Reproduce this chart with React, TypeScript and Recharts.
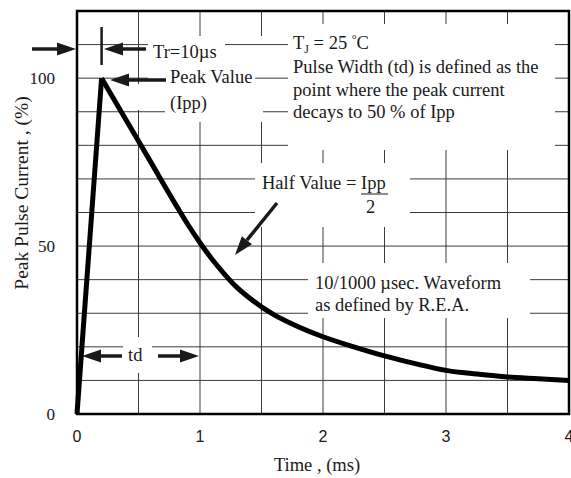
import { CartesianGrid, Customized, Line, LineChart, XAxis, YAxis } from 'recharts';

document.body.style.margin = '0';

// time in ms, current in % of Ipp
const TIME = [0, 0.2, 0.4, 0.6, 0.8, 0.9, 1, 1.1, 1.2, 1.3, 1.4, 1.5, 1.6, 1.75, 2, 2.25, 2.5, 2.75, 3, 3.25, 3.5, 3.75, 4];
const CURRENT = [0, 100, 87.5, 75, 62.5, 56.5, 51, 46, 41.6, 37.7, 34.6, 31.9, 29.6, 26.8, 23, 20, 17.3, 15, 13, 11.9, 11, 10.5, 10];
const X_TICKS = [0, 0.5, 1, 1.5, 2, 2.5, 3, 3.5, 4];
const Y_TICKS = [0, 10, 20, 30, 40, 50, 60, 70, 80, 90, 100, 110, 120];
const X_LABELS = [0, 1, 2, 3, 4];
const Y_LABELS = [0, 50, 100];

const points = TIME.map((t, i) => ({ t, v: CURRENT[i] }));
const rise = points.slice(0, 2);
const decay = points.slice(1);

const W = 571;
const H = 478;
const LEFT = 77;
const TOP = 11;
const PW = 492;
const PH = 403;
const px = (t: number) => LEFT + (t / 4) * PW;
const py = (v: number) => TOP + PH - (v / 120) * PH;

const SERIF = '"Liberation Serif", "Times New Roman", serif';
const INK = '#1a1a1a';
const GRID = '#3a3a3a';

function Arrow({ x1, y1, x2, y2 }: { x1: number; y1: number; x2: number; y2: number }) {
  // line from (x1,y1) with head at (x2,y2)
  const a = Math.atan2(y2 - y1, x2 - x1);
  const len = 19;
  const hw = 6.5;
  const bx = x2 - len * Math.cos(a);
  const by = y2 - len * Math.sin(a);
  const nx = -Math.sin(a) * hw;
  const ny = Math.cos(a) * hw;
  return (
    <g>
      <line x1={x1} y1={y1} x2={bx} y2={by} stroke={INK} strokeWidth={3.5} />
      <polygon points={`${x2},${y2} ${bx + nx},${by + ny} ${bx - nx},${by - ny}`} fill={INK} />
    </g>
  );
}

function Overlay() {
  const boxes = [
    { x: 148, y: 36, w: 140, h: 86 },
    { x: 130, y: 84, w: 18, h: 26 },
    { x: 288, y: 24, w: 267, h: 126 },
    { x: 255, y: 163, w: 155, h: 64 },
    { x: 308, y: 263, w: 222, h: 55 },
    { x: 123, y: 337, w: 29, h: 36 },
  ];
  const dashes = [
    { x1: 225, x2: 288, v: 110 },
    { x1: 255, x2: 288, v: 100 },
    { x1: 148, x2: 165, v: 90 },
    { x1: 263, x2: 288, v: 90 },
  ];
  const text = { fontFamily: SERIF, fontSize: 18.5, fill: INK };
  return (
    <g>
      {boxes.map((b, i) => (
        <rect key={i} x={b.x} y={b.y} width={b.w} height={b.h} fill="#fff" />
      ))}
      {dashes.map((d, i) => (
        <line key={i} x1={d.x1} x2={d.x2} y1={py(d.v)} y2={py(d.v)} stroke={GRID} strokeWidth={1} />
      ))}
      <rect x={LEFT} y={TOP} width={PW} height={PH} fill="none" stroke="#000" strokeWidth={2.5} />

      {/* rise time marker */}
      <Arrow x1={32} y1={49} x2={76} y2={49} />
      <line x1={px(0.2)} x2={px(0.2)} y1={27} y2={65} stroke={INK} strokeWidth={2.5} />
      <Arrow x1={146} y1={49} x2={104} y2={49} />
      <text x={153} y={58} {...text}>Tr=10µs</text>

      {/* peak value */}
      <Arrow x1={166} y1={80} x2={110} y2={80} />
      <text x={170} y={83} {...text}>Peak Value</text>
      <text x={170} y={109} {...text}>(Ipp)</text>

      {/* conditions block */}
      <text x={293} y={49} {...text}>
        T<tspan fontSize={12} dy={4}>J</tspan>
        <tspan dy={-4}> = 25 </tspan>
        <tspan fontSize={12} dy={-6}>°</tspan>
        <tspan dy={6}>C</tspan>
      </text>
      <text x={293} y={73} {...text}>Pulse Width (td) is defined as the</text>
      <text x={293} y={96} {...text}>point where the peak current</text>
      <text x={293} y={118} {...text}>decays to 50 % of Ipp</text>

      {/* half value */}
      <text x={262} y={189} {...text}>Half Value = Ipp</text>
      <line x1={361} x2={388} y1={194} y2={194} stroke={INK} strokeWidth={1} />
      <text x={366} y={213} {...text}>2</text>
      <Arrow x1={277} y1={203} x2={235} y2={255} />

      {/* waveform note */}
      <text x={315} y={289} {...text}>10/1000 µsec. Waveform</text>
      <text x={315} y={311} {...text}>as defined by R.E.A.</text>

      {/* pulse width */}
      <Arrow x1={122} y1={356} x2={82} y2={356} />
      <text x={128} y={361} {...text}>td</text>
      <Arrow x1={158} y1={356} x2={199} y2={356} />

      {/* axis titles */}
      <text x={317} y={471} textAnchor="middle" {...text}>Time , (ms)</text>
      <text
        x={22}
        y={193}
        textAnchor="middle"
        transform="rotate(-90 22 193)"
        dy={6}
        {...text}
        fontSize={19.5}
      >
        Peak Pulse Current , (%)
      </text>
    </g>
  );
}

export default function App() {
  return (
    <div style={{ width: W, height: H, background: '#fff' }}>
      <LineChart width={W} height={H} margin={{ top: TOP, right: W - LEFT - PW, bottom: 0, left: 0 }}>
        <CartesianGrid stroke={GRID} strokeWidth={1} />
        <XAxis
          dataKey="t"
          type="number"
          domain={[0, 4]}
          ticks={X_TICKS}
          height={H - TOP - PH}
          axisLine={false}
          tickLine={false}
          tickSize={0}
          tickMargin={17}
          interval={0}
          tickFormatter={(t: number) => (X_LABELS.includes(t) ? String(t) : '')}
          tick={{ fill: INK, fontSize: 16, fontFamily: '"Liberation Sans", Arial, sans-serif' }}
        />
        <YAxis
          type="number"
          domain={[0, 120]}
          ticks={Y_TICKS}
          width={LEFT}
          axisLine={false}
          tickLine={false}
          tickSize={0}
          tickMargin={22}
          interval={0}
          tickFormatter={(v: number) => (Y_LABELS.includes(v) ? String(v) : '')}
          tick={{ fill: INK, fontSize: 17, fontFamily: SERIF }}
        />
        <Customized component={Overlay} />
        <Line
          data={rise}
          dataKey="v"
          type="linear"
          stroke="#000"
          strokeWidth={5}
          dot={false}
          activeDot={false}
          isAnimationActive={false}
        />
        <Line
          data={decay}
          dataKey="v"
          type="monotone"
          stroke="#000"
          strokeWidth={5}
          strokeLinejoin="round"
          dot={false}
          activeDot={false}
          isAnimationActive={false}
        />
      </LineChart>
    </div>
  );
}
